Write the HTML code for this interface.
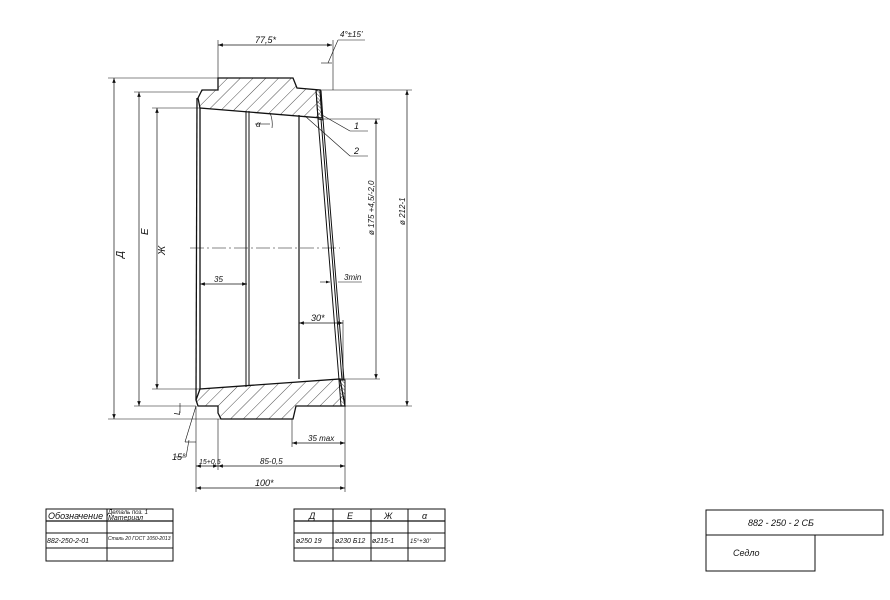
<!DOCTYPE html>
<html><head><meta charset="utf-8"><style>
body{margin:0;background:#fff}
svg{display:block}
text{font-family:"Liberation Sans",sans-serif;font-style:italic;fill:#111}
</style></head><body>
<svg width="890" height="600" viewBox="0 0 890 600" xmlns="http://www.w3.org/2000/svg">
<defs>
<pattern id="h" width="9" height="9" patternUnits="userSpaceOnUse" patternTransform="rotate(45)"><line x1="0" y1="0" x2="0" y2="9" stroke="#222" stroke-width="0.8"/></pattern>
<pattern id="h2" width="2.5" height="2.5" patternUnits="userSpaceOnUse" patternTransform="rotate(-45)"><line x1="0" y1="0" x2="0" y2="2.5" stroke="#222" stroke-width="0.7"/></pattern>
<marker id="a" markerWidth="8" markerHeight="6" refX="7" refY="3" orient="auto-start-reverse"><path d="M0,0.5 L7,3 L0,5.5" fill="#111"/></marker>
</defs>
<g stroke="#111" fill="none" stroke-width="1">
<polygon points="198,98 202,90 218,90 218,78 293,78 297,88 320,90 322,118 200,108" fill="url(#h)" stroke-width="1.3"/>
<polygon points="316,90 321,90 323,120 318,119" fill="url(#h2)"/>
<polygon points="196,400 198,406 218,406 218,413 221,419 293,419 296,406 345,406 340,379 200,389" fill="url(#h)" stroke-width="1.3"/>
<polygon points="339,380 345,380 345,406 341,406" fill="url(#h2)"/>
<line x1="197" y1="98" x2="196" y2="400" stroke-width="1.3"/>
<line x1="200" y1="108" x2="200" y2="389" stroke-width="1.3"/>
<line x1="246" y1="111" x2="246" y2="387"/><line x1="249" y1="111" x2="249" y2="386"/>
<line x1="299" y1="115" x2="299" y2="379" stroke-width="1.2"/>
<line x1="318" y1="119" x2="339" y2="380"/><line x1="321" y1="119" x2="342" y2="380"/><line x1="323" y1="119" x2="344" y2="380"/>
<line x1="316" y1="90" x2="318" y2="119"/>
<line x1="190" y1="248" x2="340" y2="248" stroke-width="0.6" stroke-dasharray="14,3,2,3"/>
<line x1="108" y1="78" x2="218" y2="78" stroke-width="0.6"/>
<line x1="134" y1="92" x2="198" y2="92" stroke-width="0.6"/>
<line x1="152" y1="108" x2="200" y2="108" stroke-width="0.6"/>
<line x1="108" y1="419" x2="221" y2="419" stroke-width="0.6"/>
<line x1="134" y1="406" x2="196" y2="406" stroke-width="0.6"/>
<line x1="152" y1="389" x2="200" y2="389" stroke-width="0.6"/>
<line x1="322" y1="90" x2="412" y2="90" stroke-width="0.6"/>
<line x1="322" y1="119" x2="380" y2="119" stroke-width="0.6"/>
<line x1="345" y1="406" x2="412" y2="406" stroke-width="0.6"/>
<line x1="340" y1="379" x2="380" y2="379" stroke-width="0.6"/>
<line x1="114" y1="78" x2="114" y2="419" stroke-width="0.7" marker-start="url(#a)" marker-end="url(#a)"/>
<line x1="139" y1="92" x2="139" y2="406" stroke-width="0.7" marker-start="url(#a)" marker-end="url(#a)"/>
<line x1="157" y1="108" x2="157" y2="389" stroke-width="0.7" marker-start="url(#a)" marker-end="url(#a)"/>
<line x1="376" y1="119" x2="376" y2="379" stroke-width="0.7" marker-start="url(#a)" marker-end="url(#a)"/>
<line x1="407" y1="90" x2="407" y2="406" stroke-width="0.7" marker-start="url(#a)" marker-end="url(#a)"/>
<line x1="218" y1="40" x2="218" y2="78" stroke-width="0.6"/>
<line x1="333" y1="40" x2="333" y2="90" stroke-width="0.6"/>
<line x1="218" y1="45" x2="332" y2="45" stroke-width="0.7" marker-start="url(#a)" marker-end="url(#a)"/>
<line x1="321" y1="63" x2="332" y2="63" stroke-width="0.6"/>
<line x1="328" y1="63" x2="338" y2="40" stroke-width="0.6"/>
<line x1="338" y1="40" x2="365" y2="40" stroke-width="0.6"/>
<line x1="322" y1="115" x2="350" y2="131" stroke-width="0.6"/><line x1="350" y1="131" x2="368" y2="131" stroke-width="0.6"/>
<line x1="305" y1="116" x2="350" y2="156" stroke-width="0.6"/><line x1="350" y1="156" x2="368" y2="156" stroke-width="0.6"/>
<line x1="255" y1="124" x2="270" y2="124" stroke-width="0.6"/>
<path d="M270,113 Q273,120 272,128" stroke-width="0.6"/>
<line x1="200" y1="284" x2="247" y2="284" stroke-width="0.7" marker-start="url(#a)" marker-end="url(#a)"/>
<line x1="320" y1="282" x2="330" y2="282" stroke-width="0.6" marker-end="url(#a)"/>
<line x1="338" y1="282" x2="362" y2="282" stroke-width="0.6"/>
<line x1="299" y1="323" x2="343" y2="323" stroke-width="0.7" marker-start="url(#a)" marker-end="url(#a)"/>
<line x1="343" y1="320" x2="343" y2="380" stroke-width="0.6"/>
<line x1="292" y1="419" x2="292" y2="447" stroke-width="0.6"/>
<line x1="345" y1="406" x2="345" y2="492" stroke-width="0.6"/>
<line x1="196" y1="406" x2="196" y2="492" stroke-width="0.6"/>
<line x1="218" y1="419" x2="218" y2="470" stroke-width="0.6"/>
<line x1="292" y1="443" x2="345" y2="443" stroke-width="0.7" marker-start="url(#a)" marker-end="url(#a)"/>
<line x1="196" y1="466" x2="218" y2="466" stroke-width="0.7" marker-start="url(#a)" marker-end="url(#a)"/>
<line x1="218" y1="466" x2="345" y2="466" stroke-width="0.7" marker-start="url(#a)" marker-end="url(#a)"/>
<line x1="196" y1="488" x2="345" y2="488" stroke-width="0.7" marker-start="url(#a)" marker-end="url(#a)"/>
<line x1="180" y1="403" x2="180" y2="413" stroke-width="0.6"/>
<line x1="196" y1="406" x2="185" y2="442" stroke-width="0.6"/>
<line x1="185" y1="442" x2="196" y2="442" stroke-width="0.6"/>
<line x1="175" y1="457" x2="186" y2="457" stroke-width="0.6"/>
<line x1="186" y1="457" x2="189" y2="440" stroke-width="0.6"/>
<rect x="46" y="509" width="127" height="52" stroke-width="1"/>
<line x1="46" y1="521" x2="173" y2="521" stroke-width="1.3"/>
<line x1="46" y1="533" x2="173" y2="533"/><line x1="46" y1="548" x2="173" y2="548"/>
<line x1="107" y1="509" x2="107" y2="561"/>
<rect x="294" y="509" width="151" height="52"/>
<line x1="294" y1="521" x2="445" y2="521" stroke-width="1.3"/>
<line x1="294" y1="533" x2="445" y2="533"/><line x1="294" y1="548" x2="445" y2="548"/>
<line x1="333" y1="509" x2="333" y2="561"/><line x1="371" y1="509" x2="371" y2="561"/><line x1="408" y1="509" x2="408" y2="561"/>
<rect x="706" y="510" width="177" height="25"/>
<rect x="706" y="535" width="109" height="36"/>
</g>
<g font-size="9">
<text x="255" y="43">77,5*</text>
<text x="340" y="37" font-size="8">4°±15'</text>
<text x="256" y="127" font-size="8">α</text>
<text x="354" y="129">1</text>
<text x="354" y="154">2</text>
<text x="214" y="282" font-size="8">35</text>
<text x="344" y="280" font-size="8">3min</text>
<text x="311" y="321">30*</text>
<text x="308" y="441" font-size="8">35 max</text>
<text x="199" y="464" font-size="7">15+0,5</text>
<text x="260" y="464" font-size="8">85-0,5</text>
<text x="255" y="486">100*</text>
<text x="172" y="460">15°</text>
<text transform="translate(123,258) rotate(-90)" font-size="10">Д</text>
<text transform="translate(148,235) rotate(-90)" font-size="10">Е</text>
<text transform="translate(165,255) rotate(-90)" font-size="10">Ж</text>
<text transform="translate(374,235) rotate(-90)" font-size="8">ø 175 +4,5/-2,0</text>
<text transform="translate(405,225) rotate(-90)" font-size="8">ø 212-1</text>
<text transform="translate(180,415) rotate(-90)" font-size="8">L</text>
<text x="48" y="519" font-size="9">Обозначение</text>
<text x="108" y="514" font-size="6">Деталь поз. 1</text>
<text x="108" y="520" font-size="7">Материал</text>
<text x="47" y="543" font-size="7">882-250-2-01</text>
<text x="108" y="540" font-size="5" font-style="normal">Сталь 20 ГОСТ 1050-2013</text>
<text x="309" y="519" font-size="9">Д</text>
<text x="347" y="519" font-size="9">Е</text>
<text x="384" y="519" font-size="9">Ж</text>
<text x="422" y="519" font-size="9">α</text>
<text x="296" y="543" font-size="7">ø250 19</text>
<text x="335" y="543" font-size="7">ø230 Б12</text>
<text x="372" y="543" font-size="7">ø215-1</text>
<text x="410" y="543" font-size="6">15°+30'</text>
<text x="748" y="526" font-size="9">882 - 250 - 2 СБ</text>
<text x="733" y="556" font-size="9">Седло</text>
</g>
</svg>
</body></html>
